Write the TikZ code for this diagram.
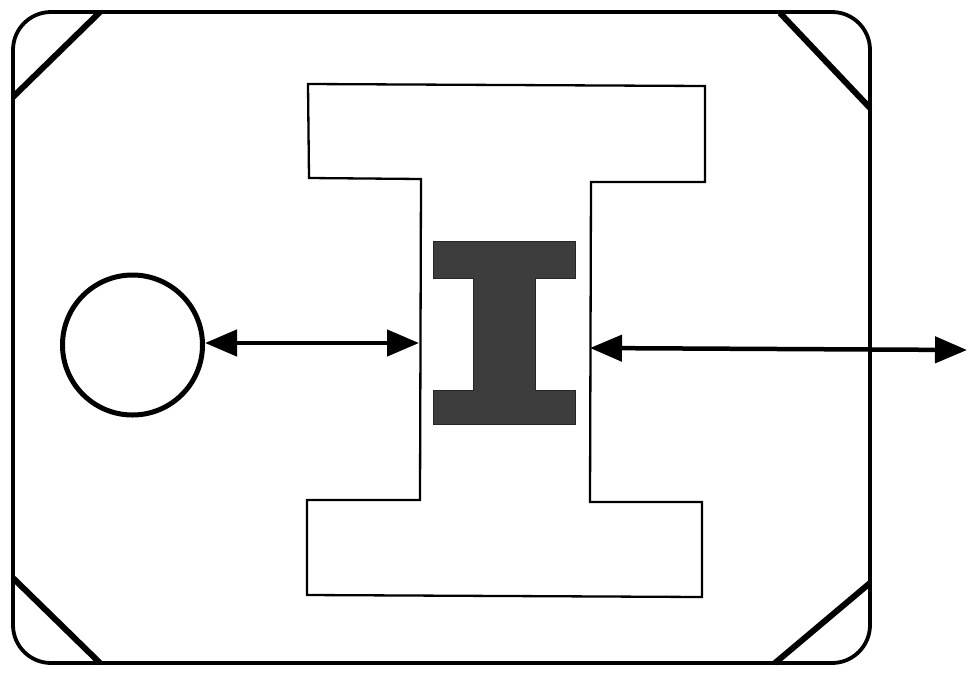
\documentclass[tikz,border=0pt]{standalone}
\usetikzlibrary{arrows.meta}
\begin{document}
\begin{tikzpicture}[x=1pt,y=-1pt,
  frame/.style={line width=3.8pt,rounded corners=38pt},
  cornerbar/.style={line width=6pt},
  bigI/.style={line width=2.3pt,line join=miter},
  smallI/.style={fill=black!76,draw=black!85,line width=0.8pt},
  dblarrow/.style={line width=4.5pt,{Triangle[length=32pt,width=26pt]}-{Triangle[length=32pt,width=26pt]}}]
\useasboundingbox (0,0) rectangle (967,673);
% outer frame
\draw[frame] (13,12) rectangle (870,663);
% corner diagonals
\draw[cornerbar] (13,97) -- (100,12);
\draw[cornerbar] (780,13) -- (870,108);
\draw[cornerbar] (13,578) -- (100,663);
\draw[cornerbar] (870,583) -- (775,663);
% large I
\draw[bigI] (308,84) -- (705,86) -- (705,182) -- (591,182) -- (590,502)
  -- (702,502) -- (702,597) -- (307,595) -- (307,500) -- (420,500)
  -- (421,179) -- (309,178) -- cycle;
% small dark I
\fill[smallI] (433,241) -- (575,241) -- (575,278) -- (535,278) -- (535,390)
  -- (575,390) -- (575,424) -- (433,424) -- (433,390) -- (473,390)
  -- (473,278) -- (433,278) -- cycle;
% circle
\node[circle,draw,line width=5pt,minimum size=140pt,inner sep=0pt] (c) at (132.5,345) {};
% arrow end points
\coordinate (sl) at (419,343);
\coordinate (sr) at (590,348);
\coordinate (out) at (967,350);
\draw[dblarrow] (c.east) ++(0,-2) -- (sl);
\draw[dblarrow] (sr) -- (out);
\end{tikzpicture}
\end{document}
